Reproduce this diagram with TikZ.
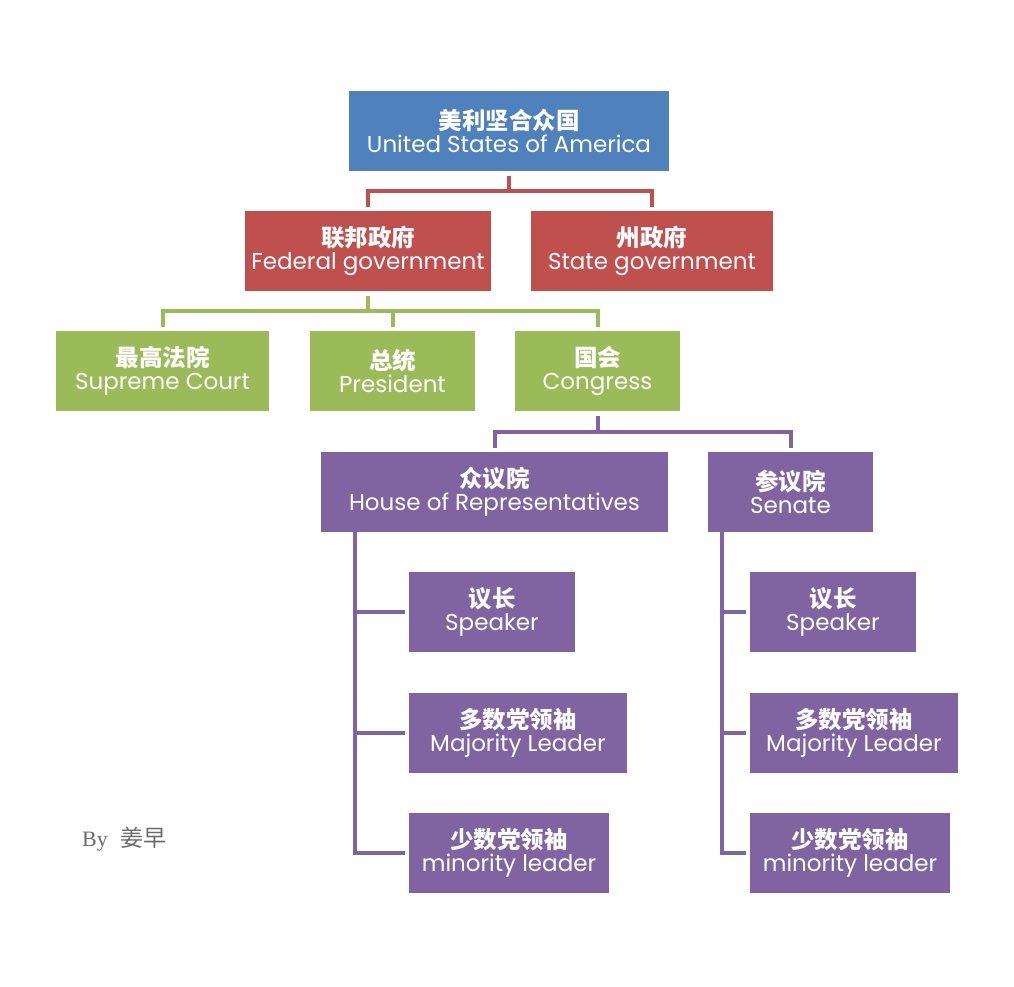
\documentclass[tikz,border=0pt]{standalone}
\usepackage{fontspec}
\setmainfont{Poppins}
\newfontfamily\cjk{Noto Sans CJK SC}
\newfontfamily\bylinefont{Liberation Serif}
\usepackage{tikz}

\definecolor{usablue}{HTML}{4F81BD}
\definecolor{fedred}{HTML}{C0504D}
\definecolor{branchgreen}{HTML}{9BBB59}
\definecolor{chamberpurple}{HTML}{8064A2}
\definecolor{bygray}{HTML}{6B6B6B}

\newcommand{\orgtext}[2]{{\cjk\bfseries\fontsize{23.5}{23}\selectfont #1}\\#2}

\tikzset{
  orgbox/.style={fill=#1, text=white, inner sep=0pt, minimum height=80pt, align=center,
    font=\fontsize{23}{23}\selectfont},
  link/.style={draw=#1, line width=4pt},
}

\begin{document}
\begin{tikzpicture}[x=1pt, y=-1pt]
    \useasboundingbox (0,0) rectangle (1014,986);
    % top levels
    \node[orgbox=usablue, minimum width=320pt] (usa) at (509,130.5) {\orgtext{美利坚合众国}{United States of America}};
    \node[orgbox=fedred, minimum width=246pt] (fed) at (368,251) {\orgtext{联邦政府}{Federal government}};
    \node[orgbox=fedred, minimum width=242pt] (state) at (652,251) {\orgtext{州政府}{State government}};
    \node[orgbox=branchgreen, minimum width=213pt] (court) at (162.5,371) {\orgtext{最高法院}{Supreme Court}};
    \node[orgbox=branchgreen, minimum width=165pt] (pres) at (392.5,371) {\orgtext{总统}{President}};
    \node[orgbox=branchgreen, minimum width=165pt] (cong) at (597.5,371) {\orgtext{国会}{Congress}};
    \node[orgbox=chamberpurple, minimum width=347pt] (house) at (494.5,492) {\orgtext{众议院}{House of Representatives}};
    \node[orgbox=chamberpurple, minimum width=165pt] (senate) at (790.5,492) {\orgtext{参议院}{Senate}};
    % house leaders
    \node[orgbox=chamberpurple, minimum width=166pt] (spkH) at (492,612) {\orgtext{议长}{Speaker}};
    \node[orgbox=chamberpurple, minimum width=218pt] (majH) at (518,733) {\orgtext{多数党领袖}{Majority Leader}};
    \node[orgbox=chamberpurple, minimum width=200pt] (minH) at (509,853) {\orgtext{少数党领袖}{minority leader}};
    % senate leaders
    \node[orgbox=chamberpurple, minimum width=166pt] (spkS) at (833,612) {\orgtext{议长}{Speaker}};
    \node[orgbox=chamberpurple, minimum width=208pt] (majS) at (854,733) {\orgtext{多数党领袖}{Majority Leader}};
    \node[orgbox=chamberpurple, minimum width=200pt] (minS) at (850,853) {\orgtext{少数党领袖}{minority leader}};

    \node[anchor=base west, inner sep=0pt, text=bygray, font=\fontsize{22}{22}\selectfont] (byline) at (82,846) {\bylinefont By\hspace{13pt}{\cjk\fontsize{23}{23}\selectfont 姜早}};

    % connectors
    \draw[link=fedred] ([yshift=-5pt]usa.south) -- ++(0,15) -| ([yshift=4pt]fed.north);
    \draw[link=fedred] ([yshift=-5pt]usa.south) -- ++(0,15) -| ([yshift=4pt]state.north);
    \foreach \b in {court,pres,cong}
        \draw[link=branchgreen] ([yshift=-5pt]fed.south) -- ++(0,15) -| ([yshift=4pt]\b.north);
    \foreach \b in {house,senate}
        \draw[link=chamberpurple] ([yshift=-5pt]cong.south) -- ++(0,16) -| ([yshift=4pt]\b.north);
    \draw[link=chamberpurple] ([xshift=34pt,yshift=-5pt]house.south west) |- ([xshift=-4pt]minH.west);
    \foreach \b in {spkH,majH}
        \draw[link=chamberpurple] ([xshift=34pt]house.south west) |- ([xshift=-4pt]\b.west);
    \draw[link=chamberpurple] ([xshift=14pt,yshift=-5pt]senate.south west) |- ([xshift=-4pt]minS.west);
    \foreach \b in {spkS,majS}
        \draw[link=chamberpurple] ([xshift=14pt]senate.south west) |- ([xshift=-4pt]\b.west);
\end{tikzpicture}
\end{document}
